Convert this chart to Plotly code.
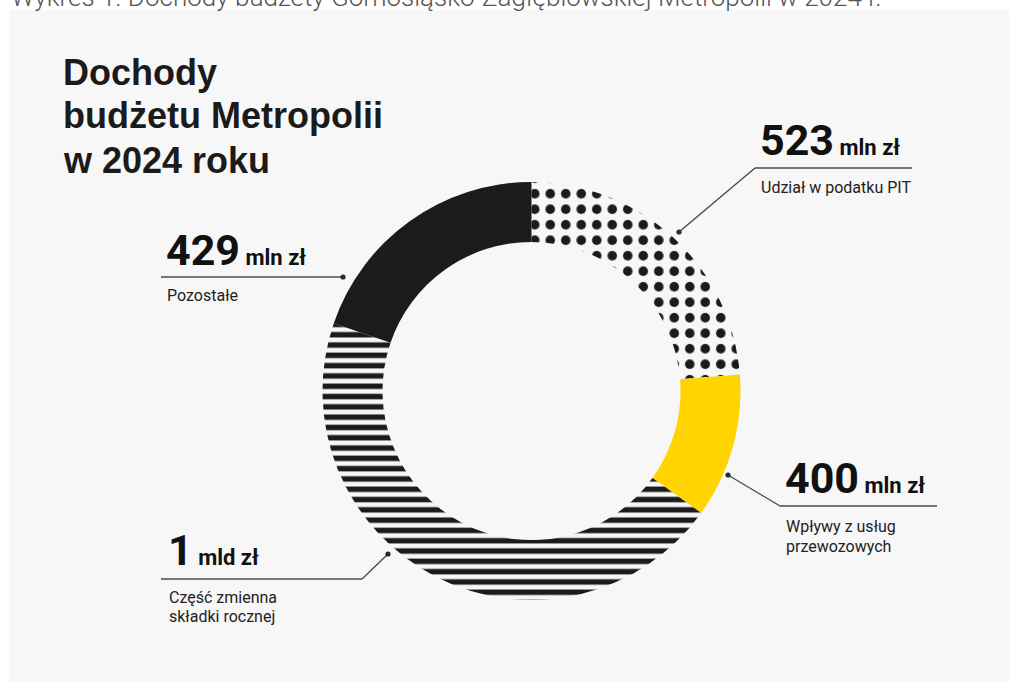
import plotly.graph_objects as go

W, H = 1016, 682

# ---------------- data ----------------
categories = ["Udział w podatku PIT", "Wpływy z usług przewozowych",
              "Część zmienna składki rocznej", "Pozostałe"]
amount_text = ["523", "400", "1", "429"]
amount_unit = ["mln zł", "mln zł", "mld zł", "mln zł"]
amount_mln = [523, 400, 1000, 429]
# angular share of each ring segment as drawn in the picture (degrees)
slice_share_deg = [85.5, 40.2, 163.2, 71.1]
label_lines = [["Udział w podatku PIT"],
               ["Wpływy z usług", "przewozowych"],
               ["Część zmienna", "składki rocznej"],
               ["Pozostałe"]]
title_lines = ["Dochody", "budżetu Metropolii", "w 2024 roku"]
caption = "Wykres 1. Dochody budżety Górnośląsko-Zagłębiowskiej Metropolii w 2024 r."

# ---------------- styling ----------------
PANEL = "#f7f7f7"
BLACK = "#1b1b1b"
YELLOW = "#ffd400"
NARROW = "Roboto, sans-serif"
SANS = "Liberation Sans, Arial, sans-serif"


def px(x):
    return x / W


def py(y):
    return 1 - y / H


DOT_T = 15.5
STR_T = 10.3

cx, cy, R = 531.5, 391, 209
hole = 149 / 209

fig = go.Figure()
fig.add_trace(go.Pie(
    labels=categories,
    values=slice_share_deg,
    customdata=amount_mln,
    sort=False,
    direction="clockwise",
    rotation=0,
    hole=hole,
    textinfo="none",
    hoverinfo="skip",
    showlegend=False,
    domain=dict(x=[px(cx - R), px(cx + R)], y=[py(cy + R), py(cy - R)]),
    marker=dict(
        colors=[PANEL, YELLOW, PANEL, BLACK],
        line=dict(width=0),
        pattern=dict(
            shape=[".", "", "-", ""],
            size=[DOT_T, 8, STR_T, 8],
            solidity=[0.3, 0.3, 0.53, 0.3],
            fgcolor=[BLACK, YELLOW, BLACK, BLACK],
            bgcolor=[PANEL, YELLOW, PANEL, BLACK],
            fillmode="replace",
        ),
    ),
))

shapes = [dict(type="rect", xref="paper", yref="paper", x0=px(9), x1=px(1009),
               y0=py(682), y1=py(10), fillcolor=PANEL, line=dict(width=0), layer="below")]
annotations = []

# caption cut at top
annotations.append(dict(text=caption, x=px(9), y=py(6 - 0.35 * 26), xref="paper", yref="paper",
                        xanchor="left", yanchor="middle", showarrow=False,
                        font=dict(family="Roboto, sans-serif", size=26, color="#555555", weight=300)))

# title
for line, base in zip(title_lines, [85, 128, 173]):
    annotations.append(dict(text=f"<b>{line}</b>", x=px(61), y=py(base - 0.35 * 36),
                            xref="paper", yref="paper", xanchor="left", yanchor="middle",
                            showarrow=False, font=dict(family=SANS, size=36, color=BLACK)))

# label layout: (text_left, number_baseline, label_baselines, hline x0, hline x1, hline y, dot, elbow)
layout_pos = [
    (758, 155, [193], 755, 912, 168, (679, 232), (755, 168)),
    (783, 493, [532, 552], 780, 937, 506, (728, 475), (780, 506)),
    (166, 565, [603, 622], 161, 362, 579, (388, 554), (362, 579)),
    (164, 265, [301], 161, 343, 277, (343, 277), (343, 277)),
]

LINE_C = "#4d4d4d"
for i, (tx, nb, lbs, hx0, hx1, hy, dot, elbow) in enumerate(layout_pos):
    annotations.append(dict(
        text=f"<b>{amount_text[i]}</b><span style='font-size:22px'><b> {amount_unit[i]}</b></span>",
        x=px(tx), y=py(nb - 0.35 * 43), xref="paper", yref="paper",
        xanchor="left", yanchor="middle", showarrow=False,
        font=dict(family=NARROW, size=43, color="#111111")))
    for txt, lb in zip(label_lines[i], lbs):
        annotations.append(dict(text=txt, x=px(tx + 1), y=py(lb - 0.35 * 16),
                                xref="paper", yref="paper", xanchor="left", yanchor="middle",
                                showarrow=False,
                                font=dict(family=NARROW, size=16, color="#222222")))
    shapes.append(dict(type="line", xref="paper", yref="paper", x0=px(hx0), x1=px(hx1),
                       y0=py(hy), y1=py(hy), line=dict(color=LINE_C, width=1.4)))
    if elbow != dot:
        shapes.append(dict(type="line", xref="paper", yref="paper", x0=px(elbow[0]), x1=px(dot[0]),
                           y0=py(elbow[1]), y1=py(dot[1]), line=dict(color=LINE_C, width=1.4)))
    r = 2.6
    shapes.append(dict(type="circle", xref="paper", yref="paper",
                       x0=px(dot[0] - r), x1=px(dot[0] + r), y0=py(dot[1] + r), y1=py(dot[1] - r),
                       fillcolor="#2a2a2a", line=dict(width=0)))

fig.update_layout(
    width=W, height=H,
    margin=dict(l=0, r=0, t=0, b=0),
    paper_bgcolor="white",
    plot_bgcolor="white",
    shapes=shapes,
    annotations=annotations,
)

fig.write_html("out.html", config={"displayModeBar": False})
